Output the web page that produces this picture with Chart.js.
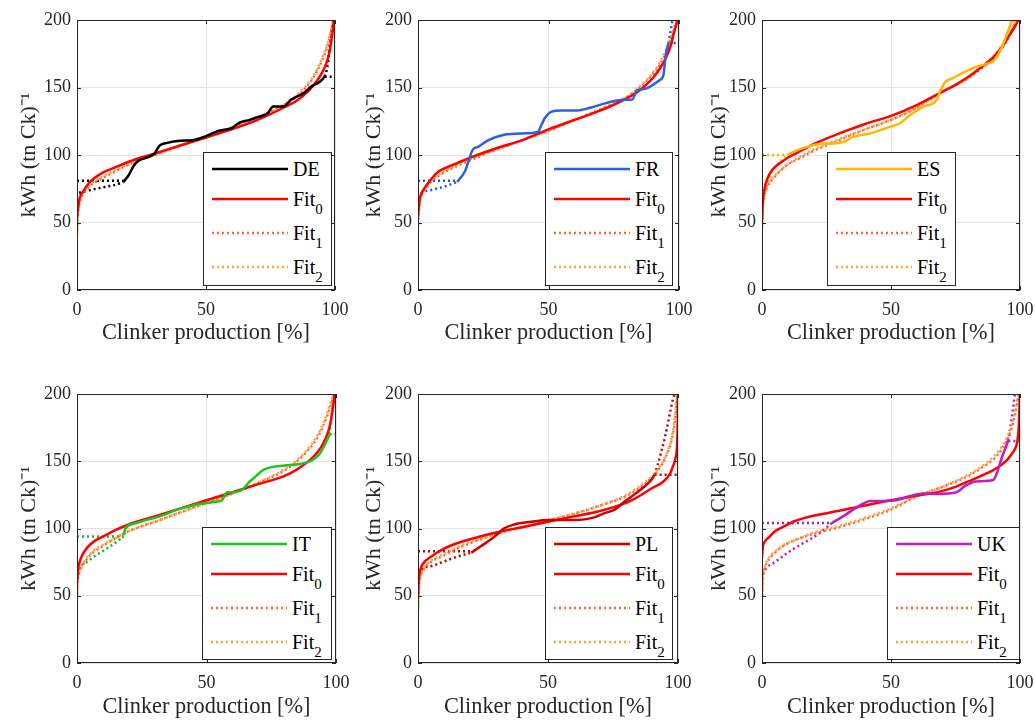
<!DOCTYPE html>
<html>
<head>
<meta charset="utf-8">
<script src="https://cdn.jsdelivr.net/npm/chart.js@4.4.1/dist/chart.umd.min.js"></script>
<style>
  body { margin: 0; background: #fff; width: 1035px; height: 721px; overflow: hidden; position: relative;
         font-family: 'Liberation Serif', 'Times New Roman', serif; }
  .panel { position: absolute; }
  .legend { position: absolute; background: #fff; border: 1px solid #262626; box-sizing: border-box; z-index: 2; }
  .legend .row { position: absolute; left: 0; right: 0; height: 0; }
  .legend svg { position: absolute; left: 8px; top: -3px; }
  .legend span { position: absolute; left: 89px; top: -12px; font-size: 20px; line-height: 24px; white-space: nowrap; color: #000; }
  .legend sub { font-size: 15px; vertical-align: -8px; line-height: 0; }
</style>
</head>
<body>
<script>
// Datos de las seis gráficas (curvas de consumo eléctrico por país)

const COUNTRIES = ['DE', 'FR', 'ES', 'IT', 'PL', 'UK'];
const FIT_LABELS = ['Fit₀', 'Fit₁', 'Fit₂'];
const X_TICKS = [0, 50, 100];
const Y_TICKS = [0, 50, 100, 150, 200];
const X_TITLE = 'Clinker production [%]';
const Y_TITLE = 'kWh (tn Ck)⁻¹';

// DE
const DE_DATA = [[18,80],[20,85],[22,92],[24,96],[27,98],[30,101],[31,104],[32,107],[35,109],[40,110.5],[45,111],[50,114],[55,118],[60,120],[63,124],[67,126],[70,128],[74,131],[76,136],[80,136],[83,141],[85,143],[88,146],[91,151],[94,154],[96,158]];
const DE_START = [[0,81],[18,81]];
const DE_RAMP = [[0.8,72],[2,72.5],[5,74],[10,76],[15,78],[18,80]];
const DE_END = [[96,158],[100,158]];
const DE_PEAK = [[96,158],[97,165],[98,180],[99,195],[99.4,200]];
const DE_FIT0 = [[0,54],[0.5,62],[1,68],[2,72],[5,80],[10,87],[15,91],[20,95],[30,101],[40,107],[50,113],[60,119],[70,126],[80,135],[85,140],[90,148],[93,155],[95,161],[97,170],[98,178],[99,190],[99.6,200]];
const DE_FIT1 = [[0,40],[0.3,55],[1,64],[2,70],[5,77],[10,83],[15,88],[20,93],[25,97],[30,100],[40,107],[50,113],[60,120],[70,128],[80,137],[85,143],[90,153],[93,162],[95,170],[97,180],[98,188],[99,196],[99.3,200]];
const DE_FIT2 = [[0,42],[0.3,56],[1,65],[2,71],[5,78],[10,84],[15,89],[20,93],[25,97],[30,100],[40,107],[50,113],[60,120],[70,128],[80,137],[85,144],[90,154],[93,163],[95,172],[97,182],[98,189],[99,197],[99.3,200]];

// FR
const FR_DATA = [[15,80],[18,88],[21,104],[23,106],[27,111],[33,115],[40,116],[46,117],[47,121],[48.5,127],[51,132],[55,133],[61,133],[66,135],[74,139.5],[79,141],[82,141],[84,148],[87,149],[92.6,155.5],[94,159],[95,175],[96,183]];
const FR_START = [[0,81],[15,81]];
const FR_RAMP = [[0.3,68],[1.3,71.5],[5,74],[10,76.5],[15,80]];
const FR_END = [[96,183],[100,183]];
const FR_PEAK = [[96,183],[97.5,200]];
const FR_FIT0 = [[0,55],[0.5,65],[1,70],[2,74],[5,82],[8,88],[10,90],[15,94],[20,98],[30,105],[40,111],[50,119],[60,126],[70,133],[80,142],[85,148],[90,157],[93,165],[95,172],[97,182],[98,190],[99,197],[99.5,200]];
const FR_FIT1 = [[0,48],[0.5,62],[1,68],[2,72],[5,80],[10,87],[20,96],[30,104],[40,111],[50,118],[60,126],[70,134],[80,143],[85,150],[90,160],[93,168],[95,176],[97,186],[99,198],[99.3,200]];
const FR_FIT2 = [[0,50],[0.5,63],[1,69],[2,73],[5,81],[10,88],[20,97],[30,104],[40,111],[50,118],[60,126],[70,134],[80,143],[85,151],[90,161],[93,170],[95,178],[97,188],[98.5,197],[99,200]];

// ES
const ES_DATA = [[9.7,100],[13,103],[17.4,106],[24,108.6],[27.7,108.6],[32,110],[35.5,113.6],[42,116],[49.7,121],[53.5,123.5],[57.4,129.6],[62.6,135.8],[67.7,140.7],[69,147],[71,154],[74,157],[79,162],[83,165.4],[88,168],[90,170],[93,180],[95.5,192.6],[97,200]];
const ES_START = [[0,100],[9.7,100]];
const ES_RAMP = [[0,47],[0.3,62],[1,72],[3,84],[6,93],[9.7,100]];
const ES_END = [[97,200],[100,200]];
const ES_PEAK = [];
const ES_FIT0 = [[0,52],[0.3,65],[1,75],[2,82],[4,89],[7,94],[10,98],[15,103],[20,108],[30,116],[40,123],[50,129],[60,137],[65,142],[70,147],[75,152],[80,158],[85,165],[90,173],[93,180],[96,189],[98,195],[99.4,200]];
const ES_FIT1 = [[0,45],[0.3,60],[1,70],[2,76],[5,84],[10,93],[15,98],[20,103],[30,111],[40,119],[50,126],[60,135],[65,141],[70,147],[80,157],[85,164],[90,172],[95,185],[97,193],[98.5,200]];
const ES_FIT2 = [[0,47],[0.3,62],[1,71],[2,77],[5,85],[10,93],[15,99],[20,104],[30,112],[40,119],[50,126],[60,135],[65,141],[70,147],[80,157],[85,165],[90,174],[95,187],[97,195],[98.2,200]];

// IT
const IT_DATA = [[18,95],[18.7,100],[22,103.5],[27,106.4],[32,109],[38.7,114],[42.6,116],[46.5,118],[50,119],[54,120],[56,121],[58,127],[60.6,127],[64.5,130],[66,133.6],[68,137],[72,143.6],[76,146],[81,147],[86,148],[90,150],[93.5,155],[96,163.5],[97.5,170]];
const IT_START = [[0,94],[18,94]];
const IT_RAMP = [[0.3,62],[1,70],[3,74],[6.5,79],[13,87],[18,94]];
const IT_END = [[97.5,170],[100,170]];
const IT_PEAK = [[97.5,170],[98.3,185],[99,200]];
const IT_FIT0 = [[0,60],[0.3,68],[1,75],[2,80],[4,86],[7,91],[10,94],[15,99],[20,103],[30,109],[40,115],[50,121],[60,127],[70,133],[80,139],[85,144],[90,151],[93,157],[95,163],[97,172],[98,180],[99,192],[99.5,200]];
const IT_FIT1 = [[0,48],[0.3,62],[1,68],[2,72],[5,80],[10,87],[15,93],[20,98],[30,105],[40,112],[50,119],[60,126],[70,134],[80,143],[85,150],[90,160],[93,168],[95,176],[97,186],[98,192],[99.3,200]];
const IT_FIT2 = [[0,50],[0.3,63],[1,69],[2,73],[5,81],[10,88],[15,93],[20,98],[30,105],[40,112],[50,119],[60,126],[70,134],[80,144],[85,151],[90,161],[93,170],[95,178],[97,188],[98,194],[99,200]];

// PL
const PL_DATA = [[20.5,82],[24,86.6],[29.5,94],[33,100],[37,103],[43.6,105],[50,106.4],[55,106.4],[61.5,106.4],[66.7,107.7],[71.8,111.4],[75.6,114],[79.5,120],[83,125],[87,131],[89.7,136],[91,140]];
const PL_START = [[0,83],[20.5,83]];
const PL_RAMP = [[0.3,62],[1.3,69],[5,72],[10,75.5],[15,79],[20.5,82]];
const PL_END = [[91,140],[100,140]];
const PL_PEAK = [[91,140],[92,146],[95,168],[98,195.5],[98.7,200]];
const PL_FIT0 = [[0,50],[0.3,62],[1,70],[2,74],[5,79],[10,85],[15,89],[20,92],[30,97],[40,101],[50,105],[60,109],[70,113],[80,119],[85,124],[90,130],[93,133],[95,136],[97,141],[98,146],[99,152],[99.6,161],[99.9,180],[100,200]];
const PL_FIT1 = [[0,40],[0.3,55],[1,64],[2,69],[5,75],[10,80],[15,85],[20,89],[30,96],[40,101],[50,106],[60,111],[70,117],[80,124],[85,130],[90,138],[93,145],[95,152],[97,162],[98,170],[99,183],[99.7,200]];
const PL_FIT2 = [[0,42],[0.3,56],[1,65],[2,70],[5,76],[10,81],[15,86],[20,90],[30,96],[40,101],[50,106],[60,111],[70,117],[80,125],[85,131],[90,139],[93,146],[95,153],[97,163],[98,172],[99,186],[99.8,200]];

// UK
const UK_DATA = [[27,104],[31.4,109],[35.3,114],[39.8,119],[41.8,120.5],[47,120.5],[52,121],[57,124],[62.5,126],[67.7,125.7],[75.4,127],[79,132],[83,135],[89.6,136],[91,141],[93,153],[95,163],[95.5,166]];
const UK_START = [[0,104],[27,104]];
const UK_RAMP = [[0.3,66],[1,69],[5,75],[10.7,83],[15,88],[22,96],[27,104]];
const UK_END = [[95.5,165],[100,165]];
const UK_PEAK = [[95.5,165],[97,185],[98,200]];
const UK_FIT0 = [[0,78],[0.3,86],[1,90],[3,94],[5,98],[8,101],[12,105],[16,107.5],[24,111],[37,116],[50,121],[62,125],[70,128],[75,131],[80,135],[86,140],[91,145],[95,151],[97,156],[98,159],[99,165],[99.5,175],[99.8,190],[100,200]];
const UK_FIT1 = [[0,47],[0.3,62],[1,70],[2,75],[5,82],[10,89],[15,93],[20,96],[30,101],[40,107],[50,114],[60,124],[70,131],[80,139],[85,145],[90,152],[93,159],[95,166],[97,176],[98,184],[99,194],[99.5,200]];
const UK_FIT2 = [[0,49],[0.3,63],[1,71],[2,76],[5,83],[10,89],[15,93],[20,97],[30,102],[40,108],[50,115],[60,124],[70,131],[80,140],[85,146],[90,154],[93,161],[95,168],[97,178],[98,186],[99,196],[99.4,200]];

const SERIES = {
    DE: [DE_DATA, DE_START, DE_RAMP, DE_END, DE_PEAK, DE_FIT0, DE_FIT1, DE_FIT2],
    FR: [FR_DATA, FR_START, FR_RAMP, FR_END, FR_PEAK, FR_FIT0, FR_FIT1, FR_FIT2],
    ES: [ES_DATA, ES_START, ES_RAMP, ES_END, ES_PEAK, ES_FIT0, ES_FIT1, ES_FIT2],
    IT: [IT_DATA, IT_START, IT_RAMP, IT_END, IT_PEAK, IT_FIT0, IT_FIT1, IT_FIT2],
    PL: [PL_DATA, PL_START, PL_RAMP, PL_END, PL_PEAK, PL_FIT0, PL_FIT1, PL_FIT2],
    UK: [UK_DATA, UK_START, UK_RAMP, UK_END, UK_PEAK, UK_FIT0, UK_FIT1, UK_FIT2]
};

// Estilos
const COUNTRY_COLORS = { DE: '#000000', FR: '#2c5fe8', ES: '#fab800', IT: '#1cc41c', PL: '#cc0000', UK: '#c01cc0' };
const EXT_COLORS = { DE: '#000000', FR: '#2255dd', ES: '#f5b800', IT: '#16b816', PL: '#c00000', UK: '#b818b8' };
const FIT_COLORS = ['#ff0000', '#ff6633', '#ffa040'];
const DOTS = [2, 3];
const FONT = "'Liberation Serif', 'Times New Roman', serif";

// Posición de cada panel: lienzo y área de trazado
const W = 362, H = 350;
const LAYOUT = [
    { left: 0,   top: 0,   plotL: 77, plotR: 335, plotB: 290, legend: [203, 152, 129, 134] },
    { left: 345, top: 0,   plotL: 73, plotR: 334, plotB: 290, legend: [545, 152, 128, 134] },
    { left: 690, top: 0,   plotL: 72, plotR: 330, plotB: 290, legend: [827, 152, 129, 134] },
    { left: 0,   top: 374, plotL: 77, plotR: 336, plotB: 289, legend: [202, 527, 130, 133] },
    { left: 345, top: 374, plotL: 73, plotR: 333, plotB: 289, legend: [545, 527, 128, 133] },
    { left: 690, top: 374, plotL: 72, plotR: 330, plotB: 289, legend: [887, 527, 133, 133] }
];
const PLOT_TOP = 20;
const ROW_OFFSETS = [16, 45.5, 80, 114];

const pts = arr => arr.map(([x, y]) => ({ x, y }));

// Marco negro con marcas hacia dentro
const framePlugin = {
    id: 'frame',
    afterDraw(chart) {
        const { ctx, chartArea: a, scales } = chart;
        ctx.save();
        ctx.strokeStyle = '#262626';
        ctx.lineWidth = 1;
        ctx.strokeRect(a.left + 0.5, a.top + 0.5, a.right - a.left - 1, a.bottom - a.top - 1);
        ctx.beginPath();
        X_TICKS.forEach(v => {
            const px = Math.round(scales.x.getPixelForValue(v)) + 0.5;
            ctx.moveTo(px, a.bottom); ctx.lineTo(px, a.bottom - 4);
            ctx.moveTo(px, a.top); ctx.lineTo(px, a.top + 4);
        });
        Y_TICKS.forEach(v => {
            const py = Math.round(scales.y.getPixelForValue(v)) + 0.5;
            ctx.moveTo(a.left, py); ctx.lineTo(a.left + 4, py);
            ctx.moveTo(a.right, py); ctx.lineTo(a.right - 4, py);
        });
        ctx.stroke();
        ctx.restore();
    }
};

function buildDatasets(country) {
    const [data, start, ramp, end, peak, fit0, fit1, fit2] = SERIES[country];
    const line = (label, d, color, dashed, order, legend) => ({
        label, data: pts(d), borderColor: color, backgroundColor: color,
        borderWidth: 2.5, borderDash: dashed ? DOTS : [], pointRadius: 0,
        cubicInterpolationMode: 'monotone', order, inLegend: legend
    });
    return [
        line(country, data, COUNTRY_COLORS[country], false, 0, true),
        line(FIT_LABELS[0], fit0, FIT_COLORS[0], false, 1, true),
        line(FIT_LABELS[1], fit1, FIT_COLORS[1], true, 3, true),
        line(FIT_LABELS[2], fit2, FIT_COLORS[2], true, 2, true),
        line('', start, EXT_COLORS[country], true, 4, false),
        line('', ramp, EXT_COLORS[country], true, 4, false),
        line('', end, EXT_COLORS[country], true, 4, false),
        line('', peak, EXT_COLORS[country], true, 4, false)
    ];
}

function buildLegend(chart, box) {
    const div = document.createElement('div');
    div.className = 'legend';
    div.style.left = box[0] + 'px';
    div.style.top = box[1] + 'px';
    div.style.width = box[2] + 'px';
    div.style.height = box[3] + 'px';
    chart.data.datasets.filter(ds => ds.inLegend).forEach((ds, i) => {
        const row = document.createElement('div');
        row.className = 'row';
        row.style.top = ROW_OFFSETS[i] + 'px';
        const dash = ds.borderDash.length ? `stroke-dasharray="${ds.borderDash.join(' ')}"` : '';
        row.innerHTML =
            `<svg width="76" height="6"><line x1="0" y1="3" x2="76" y2="3" stroke="${ds.borderColor}" stroke-width="2.5" ${dash}/></svg>` +
            `<span>${ds.label.replace(/[\u2080-\u2089]/g, c => '<sub>' + (c.charCodeAt(0) - 0x2080) + '</sub>')}</span>`;
        div.appendChild(row);
    });
    document.body.appendChild(div);
}

COUNTRIES.forEach((country, i) => {
    const L = LAYOUT[i];
    const canvas = document.createElement('canvas');
    canvas.className = 'panel';
    canvas.width = W;
    canvas.height = H;
    canvas.style.left = L.left + 'px';
    canvas.style.top = L.top + 'px';
    document.body.appendChild(canvas);

    const chart = new Chart(canvas.getContext('2d'), {
        type: 'line',
        data: { datasets: buildDatasets(country) },
        plugins: [framePlugin],
        options: {
            responsive: false,
            animation: false,
            devicePixelRatio: 1,
            layout: { padding: { top: PLOT_TOP, right: W - L.plotR, left: 0, bottom: 0 } },
            plugins: { legend: { display: false }, tooltip: { enabled: false } },
            scales: {
                x: {
                    type: 'linear', min: 0, max: 100,
                    afterBuildTicks: s => { s.ticks = X_TICKS.map(v => ({ value: v })); },
                    afterFit: s => { s.height = H - L.plotB; s.paddingLeft = 0; s.paddingRight = 0; },
                    grid: { color: '#e2e2e2', drawTicks: false },
                    border: { display: false },
                    ticks: { padding: 9, color: '#262626', font: { family: FONT, size: 18 } },
                    title: { display: true, text: X_TITLE, color: '#262626', padding: { top: 0, bottom: 3 }, font: { family: FONT, size: 22.3 } }
                },
                y: {
                    type: 'linear', min: 0, max: 200,
                    afterBuildTicks: s => { s.ticks = Y_TICKS.map(v => ({ value: v })); },
                    afterFit: s => { s.width = L.plotL; s.paddingTop = 0; s.paddingBottom = 0; },
                    grid: { color: '#e2e2e2', drawTicks: false },
                    border: { display: false },
                    ticks: { padding: 6, color: '#262626', font: { family: FONT, size: 18 } },
                    title: { display: true, text: Y_TITLE, color: '#262626', padding: { top: 16, bottom: 0 }, font: { family: FONT, size: 22 } }
                }
            }
        }
    });
    buildLegend(chart, L.legend);
});
</script>
</body>
</html>
